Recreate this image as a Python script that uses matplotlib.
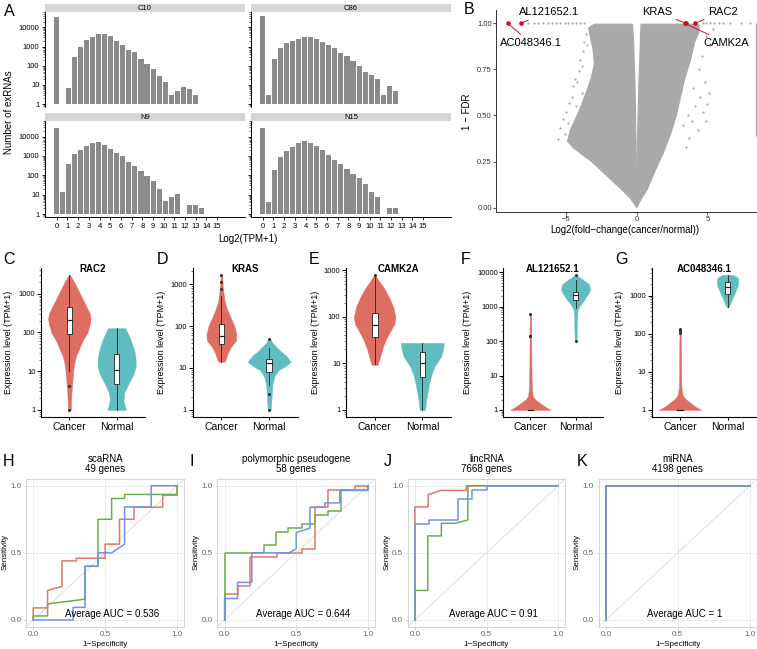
import numpy as np
import matplotlib.pyplot as plt
from matplotlib.ticker import LogLocator, NullFormatter, FixedLocator, FixedFormatter

plt.rcParams['font.family'] = ['Liberation Sans', 'DejaVu Sans']

W, H = 757, 649
fig = plt.figure(figsize=(W / 100, H / 100), dpi=100)

##############################
######## DATA ################
##############################

# A: number of exRNAs per Log2(TPM+1) bin (bins of width 9/16, first bin at 0)
bin_step = 9 / 16
c10_counts = [33000, 0, 7, 280, 1000, 2200, 3200, 4300, 4500, 3500, 2000, 1250, 630,
              510, 215, 130, 70, 29, 15, 3, 5, 8, 6, 3]
c86_counts = [39000, 3, 230, 870, 1600, 2000, 2450, 3000, 3100, 2550, 1700, 1150, 800,
              475, 310, 170, 96, 50, 33, 21, 3, 9, 5]
n9_counts = [29000, 13, 370, 1230, 2100, 3400, 4700, 5300, 3850, 2200, 1450, 960, 470,
             290, 175, 89, 49, 19, 5, 8, 11, 0, 3, 3, 2]
n15_counts = [28000, 4, 180, 890, 1800, 3000, 4700, 5700, 4900, 3150, 1950, 1170, 650,
              400, 210, 120, 73, 34, 13, 8, 0, 2, 2]
hist_names = ['C10', 'C86', 'N9', 'N15']

# B: volcano plot - outline of the dense cloud + loose points
cloud_left_x = [0, -0.45, -1.1, -1.8, -2.5, -3.2, -3.9, -4.5, -4.9, -4.7, -4.4, -4.1, -3.8,
                -3.5, -3.2, -3.0, -3.1, -3.3, -3.4, -3.0, -0.3, -0.22, -0.12, -0.05, 0]
cloud_left_y = [0, 0.05, 0.1, 0.15, 0.2, 0.25, 0.29, 0.325, 0.36, 0.42, 0.47, 0.52, 0.58,
                0.64, 0.71, 0.78, 0.86, 0.93, 0.975, 0.995, 0.995, 0.9, 0.65, 0.35, 0.08]
cloud_right_x = [0, 0.05, 0.14, 0.3, 4.4, 4.4, 4.1, 3.8, 3.4, 3.1, 2.8, 2.4, 1.9, 1.3,
                 0.75, 0.35, 0]
cloud_right_y = [0.08, 0.35, 0.65, 0.995, 0.995, 0.95, 0.9, 0.8, 0.7, 0.6, 0.5, 0.4, 0.3,
                 0.2, 0.1, 0.05, 0]
loose_x = [-5.6, -5.4, -5.2, -5.0, -4.9, -4.8, -4.6, -4.5, -4.4, -4.3, -4.1, -4.0, -3.9,
           -3.8, -3.7, -3.6, -4.2, -4.7, -5.1, -3.5, -3.9,
           3.3, 3.6, 3.9, 4.1, 4.3, 4.5, 4.7, 4.9, 5.0, 5.1, 4.8, 4.4, 4.6, 5.2, 3.7, 4.0,
           4.9, 5.4, 3.5]
loose_y = [0.37, 0.43, 0.48, 0.52, 0.46, 0.57, 0.6, 0.66, 0.7, 0.55, 0.74, 0.8, 0.62,
           0.85, 0.9, 0.94, 0.68, 0.41, 0.40, 0.88, 0.77,
           0.45, 0.5, 0.47, 0.55, 0.42, 0.6, 0.52, 0.47, 0.56, 0.62, 0.68, 0.75, 0.82,
           0.88, 0.38, 0.65, 0.93, 0.97, 0.33]
top_row_x = [-7.7, -7.3, -7.0, -6.6, -6.3, -6.0, -5.7, -5.4, -5.1, -4.9, -4.6, -4.3, -4.0,
             -3.7, 4.7, 4.9, 5.2, 5.5, 5.8, 6.1, 6.6, 7.4, 8.0]
edge_column = (8.45, 0.39, 1.0)  # x, y from, y to
hl_genes = ['AC048346.1', 'AL121652.1', 'KRAS', 'CAMK2A', 'RAC2']
hl_lfc = [-9.13, -8.21, 3.47, 3.40, 4.13]
hl_score = [1.0, 1.0, 1.0, 1.0, 1.0]

# C-G: violin outlines (log10(TPM+1) level, relative density) and box stats
genes = ['RAC2', 'KRAS', 'CAMK2A', 'AL121652.1', 'AC048346.1']
groups = ['Cancer', 'Normal']
rac2_cancer = ([3.49, 3.3, 3.1, 2.9, 2.7, 2.5, 2.35, 2.2, 2.0, 1.8, 1.6, 1.4, 1.2, 1.0, 0.7, 0.4, 0.0],
               [0.5, 5, 9, 13, 17, 21, 22, 21, 18.7, 14, 10.5, 7, 5, 4, 3, 2, 1.5])
rac2_normal = ([2.11, 1.9, 1.72, 1.5, 1.3, 1.12, 0.9, 0.69, 0.45, 0.26, 0.1, 0.0],
               [9, 13, 15.8, 18.5, 19.7, 19.7, 17, 12.5, 8, 7, 8.5, 9.5])
kras_cancer = ([3.22, 3.0, 2.8, 2.6, 2.4, 2.2, 2.0, 1.8, 1.65, 1.5, 1.35, 1.2, 1.15],
               [0.8, 1.2, 2, 3, 5.5, 9, 12.5, 14.5, 14, 9, 6, 4, 3])
kras_normal = ([1.70, 1.6, 1.5, 1.4, 1.3, 1.15, 1.05, 0.95, 0.8, 0.6, 0.4, 0.2, 0.0],
               [1, 3, 7, 11, 16, 20.8, 16, 9, 5, 3, 2.5, 2, 1.5])
camk2a_cancer = ([2.9, 2.75, 2.6, 2.4, 2.2, 2.0, 1.85, 1.7, 1.5, 1.3, 1.1, 0.97],
                 [0.5, 5, 10, 15, 19, 21, 20, 16, 11, 7.5, 5, 3])
camk2a_normal = ([1.44, 1.3, 1.15, 0.94, 0.75, 0.58, 0.4, 0.23, 0.0],
                 [21.7, 21, 19, 12.5, 9, 7, 5.5, 4, 2.8])
al121652_cancer = ([2.79, 2.5, 2.2, 1.8, 1.4, 1.0, 0.6, 0.4, 0.3, 0.2, 0.1, 0.0],
                   [0.6, 0.8, 0.9, 0.9, 1, 1.2, 1.5, 2.5, 5, 10, 15, 21])
al121652_normal = ([3.93, 3.8, 3.65, 3.5, 3.4, 3.3, 3.2, 3.1, 3.0, 2.9, 2.7, 2.4, 2.0],
                   [0.5, 7, 14, 15, 13.5, 11, 9, 6, 3.5, 2, 1.5, 1.3, 1])
ac048346_cancer = ([2.1, 1.8, 1.4, 1.0, 0.6, 0.4, 0.3, 0.2, 0.1, 0.0],
                   [0.6, 0.8, 0.9, 1.0, 1.3, 2.5, 5, 10, 15, 22])
ac048346_normal = ([3.55, 3.5, 3.45, 3.3, 3.2, 3.05, 2.9, 2.75, 2.7],
                   [5, 9, 11, 11, 9.5, 7, 4.5, 2, 1])
# whisker low, q1, median, q3, whisker high (TPM+1)
rac2_box = [(10, 93, 215, 450, 3000), (1, 4.7, 11, 27.5, 130)]
kras_box = [(14, 38, 57, 110, 520), (4, 7.9, 13, 16.6, 30)]
camk2a_box = [(9.5, 36, 66, 120, 700), (1, 5.1, 10.3, 17.5, 27)]
al121652_box = [(1, 1, 1, 1, 1), (900, 1600, 2150, 2750, 6000)]
ac048346_box = [(1, 1, 1, 1, 1), (500, 1100, 1650, 2340, 3500)]
rac2_out = [[4.2, 1.0], []]
kras_out = [[770, 1150, 1670], [50, 2.4, 1.0]]
camk2a_out = [[800], []]
al121652_out = [[615, 137, 145], [8500, 100]]
ac048346_out = [[105, 115, 125, 130], []]

# H-K: ROC curves (1-specificity, sensitivity), three runs each
roc_titles = ['scaRNA\n49 genes', 'polymorphic pseudogene\n58 genes',
              'lincRNA\n7668 genes', 'miRNA\n4198 genes']
roc_auc = ['0.536', '0.644', '0.91', '1']
scarna_red = ([0, 0, 0.1, 0.1, 0.2, 0.2, 0.3, 0.3, 0.5, 0.5, 0.6, 0.6, 0.7, 0.7, 0.9, 0.9, 1.0, 1.0],
              [0, 0.09, 0.09, 0.22, 0.25, 0.44, 0.44, 0.46, 0.46, 0.565, 0.565, 0.75, 0.75,
               0.84, 0.84, 0.93, 0.93, 1.0])
scarna_green = ([0, 0, 0.1, 0.1, 0.36, 0.36, 0.45, 0.45, 0.545, 0.545, 0.635, 0.635, 1.0, 1.0],
                [0, 0.03, 0.03, 0.12, 0.155, 0.4, 0.4, 0.75, 0.75, 0.905, 0.905, 0.935, 0.935, 1.0])
scarna_blue = ([0, 0.277, 0.277, 0.36, 0.36, 0.45, 0.45, 0.545, 0.635, 0.635, 0.82, 0.82, 1.0],
               [0, 0, 0.094, 0.094, 0.40, 0.40, 0.5, 0.5, 0.565, 0.842, 0.842, 1.0, 1.0])
pseudo_red = ([0, 0, 0.092, 0.092, 0.18, 0.18, 0.365, 0.365, 0.538, 0.538, 0.63, 0.63, 0.723,
               0.723, 0.908, 0.908, 1.0],
              [0, 0.19, 0.19, 0.25, 0.25, 0.472, 0.472, 0.5, 0.5, 0.528, 0.528, 0.84, 0.84,
               0.965, 0.965, 1.0, 1.0])
pseudo_green = ([0, 0, 0.272, 0.272, 0.36, 0.36, 0.446, 0.446, 0.54, 0.54, 0.63, 0.63, 0.72,
                 0.72, 0.815, 0.815, 1.0, 1.0],
                [0, 0.5, 0.5, 0.56, 0.56, 0.655, 0.655, 0.685, 0.685, 0.715, 0.715, 0.78,
                 0.78, 0.81, 0.81, 0.965, 0.965, 1.0])
pseudo_blue = ([0, 0, 0.09, 0.09, 0.19, 0.19, 0.45, 0.5, 0.5, 0.596, 0.596, 0.70, 0.70,
                0.804, 0.804, 1.0, 1.0],
               [0, 0.16, 0.16, 0.28, 0.28, 0.5, 0.5, 0.53, 0.65, 0.685, 0.84, 0.84, 0.872,
                0.872, 0.965, 0.965, 1.0])
linc_red = ([0, 0, 0.093, 0.093, 0.18, 0.36, 0.36, 1.0],
            [0, 0.842, 0.842, 0.933, 0.965, 0.965, 1.0, 1.0])
linc_green = ([0, 0, 0.09, 0.09, 0.185, 0.185, 0.28, 0.37, 0.37, 0.5],
              [0, 0.22, 0.22, 0.626, 0.626, 0.72, 0.72, 0.745, 1.0, 1.0])
linc_blue = ([0, 0, 0.096, 0.096, 0.30, 0.30, 0.40, 0.40, 0.50, 0.50, 1.0],
             [0, 0.717, 0.717, 0.744, 0.744, 0.904, 0.904, 0.965, 0.965, 1.0, 1.0])
mirna_red = ([0, 0, 1.0], [0, 1.0, 1.0])
mirna_green = ([0, 0, 1.0], [0, 1.0, 1.0])
mirna_blue = ([0, 0, 1.0], [0, 1.0, 1.0])

##############################
######## HELPERS #############
##############################


def px_axes(l, t, r, b):
    return fig.add_axes([l / W, 1 - b / H, (r - l) / W, (b - t) / H])


def ptext(x, y, s, **kw):
    return fig.text(x / W, 1 - y / H, s, **kw)


def panel_letter(x, y, s):
    ptext(x, y, s, fontsize=11.5, ha='center', va='center')


##############################
######## A: HISTOGRAMS #######
##############################
hist_counts = [c10_counts, c86_counts, n9_counts, n15_counts]
hist_boxes = [(45, 12, 245, 107), (251, 12, 451, 107), (45, 121, 245, 217), (251, 121, 451, 217)]
for i, (name, counts, (l, t, r, b)) in enumerate(zip(hist_names, hist_counts, hist_boxes)):
    ax = px_axes(l, t, r, b)
    counts = np.array(counts, float)
    centers = np.arange(len(counts)) * bin_step
    keep = counts > 0
    ax.bar(centers[keep], counts[keep] - 1, bottom=1, width=0.47, color='#8a8a8a', lw=0)
    ax.set_yscale('log')
    ax.set_ylim(10 ** -0.15, 10 ** 4.8)
    ax.set_xlim(-1.1, 17.6)
    for s in ['top', 'right']:
        ax.spines[s].set_visible(False)
    ax.spines['left'].set_linewidth(0.7)
    ax.yaxis.set_major_locator(FixedLocator([1, 10, 100, 1000, 10000]))
    ax.yaxis.set_minor_locator(LogLocator(base=10, subs=np.arange(2, 10)))
    ax.yaxis.set_minor_formatter(NullFormatter())
    if i % 2 == 0:
        ax.yaxis.set_major_formatter(FixedFormatter(['1', '10', '100', '1000', '10000']))
    else:
        ax.yaxis.set_major_formatter(NullFormatter())
    ax.tick_params(axis='y', which='major', length=2.5, width=0.6, labelsize=5.5, pad=1.5)
    ax.tick_params(axis='y', which='minor', length=1.3, width=0.4)
    if i >= 2:
        ax.set_xticks(range(16))
        ax.tick_params(axis='x', length=2, width=0.6, labelsize=5.5, pad=2)
        ax.spines['bottom'].set_linewidth(0.7)
    else:
        ax.set_xticks([])
        ax.spines['bottom'].set_visible(False)
    st = px_axes(l, t - 8, r, t)
    st.set_facecolor('#d6d6d6')
    st.set_xticks([])
    st.set_yticks([])
    for s in st.spines.values():
        s.set_visible(False)
    st.text(0.5, 0.45, name, ha='center', va='center', fontsize=5.5, transform=st.transAxes)

ptext(9, 112, 'Number of exRNAs', rotation=90, ha='center', va='center', fontsize=7)
ptext(248, 239, 'Log2(TPM+1)', ha='center', va='center', fontsize=7)
panel_letter(9, 11, 'A')

##############################
######## B: VOLCANO ##########
##############################
grey = '#a9a9a9'
hl_red = '#c8102e'
axb = px_axes(496, 10, 757, 212)
axb.fill(cloud_left_x, cloud_left_y, color=grey, lw=0.8)
axb.fill(cloud_right_x, cloud_right_y, color=grey, lw=0.8)
axb.scatter(loose_x, loose_y, s=2.5, color=grey, lw=0)
axb.scatter(top_row_x, np.full(len(top_row_x), 1.0), s=2.5, color=grey, lw=0)
axb.vlines(edge_column[0], edge_column[1], edge_column[2], color=grey, lw=1.0)
axb.scatter(hl_lfc, hl_score, s=11, color=hl_red, lw=0, zorder=5)
axb.set_xlim(-9.96, 8.51)
axb.set_ylim(-0.024, 1.072)
axb.set_xticks([-5, 0, 5])
axb.set_yticks([0, 0.25, 0.5, 0.75, 1.0])
axb.set_yticklabels(['0.00', '0.25', '0.50', '0.75', '1.00'])
for s in ['top', 'right']:
    axb.spines[s].set_visible(False)
for s in ['left', 'bottom']:
    axb.spines[s].set_linewidth(0.7)
    axb.spines[s].set_color('#333333')
axb.tick_params(length=2, width=0.6, labelsize=5.5, pad=1, colors='#333333')
label_pos = {'AC048346.1': (-7.5, 0.893), 'AL121652.1': (-6.2, 1.061),
             'KRAS': (1.44, 1.061), 'CAMK2A': (6.35, 0.893), 'RAC2': (6.1, 1.061)}
for g, x, y in zip(hl_genes, hl_lfc, hl_score):
    axb.annotate(g, xy=(x, y), xytext=label_pos[g], ha='center', va='center', fontsize=8,
                 annotation_clip=False,
                 arrowprops=dict(arrowstyle='-', color=hl_red, lw=0.7, shrinkA=1, shrinkB=2))
ptext(625, 230, 'Log2(fold\u2212change(cancer/normal))', ha='center', va='center', fontsize=7)
ptext(467, 112, '1 \u2212 FDR', rotation=90, ha='center', va='center', fontsize=7)
panel_letter(469, 10, 'B')

##############################
######## C-G: VIOLINS ########
##############################
group_colors = ['#de6e62', '#5fbdbf']
violin_cancer = [rac2_cancer, kras_cancer, camk2a_cancer, al121652_cancer, ac048346_cancer]
violin_normal = [rac2_normal, kras_normal, camk2a_normal, al121652_normal, ac048346_normal]
violin_box = [rac2_box, kras_box, camk2a_box, al121652_box, ac048346_box]
violin_out = [rac2_out, kras_out, camk2a_out, al121652_out, ac048346_out]
violin_x = [(41, 145), (192.7, 298), (346, 451), (503.3, 602.7), (651.7, 756)]
violin_letters = ['C', 'D', 'E', 'F', 'G']
violin_letter_x = [9, 162.5, 314.5, 466, 621]
violin_ylabel_x = [9, 162, 315, 467, 619]

for k, gene in enumerate(genes):
    l, r = violin_x[k]
    ax = px_axes(l, 268, r, 416.7)
    shapes = [violin_cancer[k], violin_normal[k]]
    dmax = max(max(d) for _, d in shapes)
    top = 0
    for j, (lv, dens) in enumerate(shapes):
        pos = j + 1
        hw = 0.45 * np.array(dens) / dmax
        y = 10 ** np.array(lv)
        ax.fill_betweenx(y, pos - hw, pos + hw, color=group_colors[j], lw=0.3,
                         edgecolor=group_colors[j])
        lo, q1, med, q3, hi = violin_box[k][j]
        ax.plot([pos, pos], [lo, q1], color='#222222', lw=0.6)
        ax.plot([pos, pos], [q3, hi], color='#222222', lw=0.6)
        ax.add_patch(plt.Rectangle((pos - 0.06, q1), 0.12, q3 - q1, facecolor='white',
                                   edgecolor='#222222', lw=0.6, zorder=3))
        ax.plot([pos - 0.06, pos + 0.06], [med, med], color='#222222', lw=0.9, zorder=4)
        outs = violin_out[k][j]
        if outs:
            ax.plot([pos] * len(outs), outs, 'o', color='#333333', ms=2.2, mew=0, zorder=4)
        top = max(top, max(lv), max([np.log10(v) for v in outs] or [0]))
    ax.set_yscale('log')
    ax.set_ylim(10 ** (-0.05 * top), 10 ** (1.05 * top))
    ax.set_xlim(0.4, 2.6)
    ax.set_xticks([1, 2])
    ax.set_xticklabels(groups)
    majors = [v for v in [1, 10, 100, 1000, 10000] if np.log10(v) <= 1.05 * top]
    ax.yaxis.set_major_locator(FixedLocator(majors))
    ax.yaxis.set_major_formatter(FixedFormatter([str(v) for v in majors]))
    ax.yaxis.set_minor_locator(LogLocator(base=10, subs=np.arange(2, 10)))
    ax.yaxis.set_minor_formatter(NullFormatter())
    for s in ['top', 'right']:
        ax.spines[s].set_visible(False)
    for s in ['left', 'bottom']:
        ax.spines[s].set_linewidth(0.8)
    ax.tick_params(axis='y', which='major', length=3, width=0.7, labelsize=5.5, pad=1)
    ax.tick_params(axis='y', which='minor', length=1.5, width=0.4)
    ax.tick_params(axis='x', length=2.5, width=0.7, labelsize=7.5, pad=1.5)
    ptext((l + r) / 2, 269, gene, ha='center', va='center', fontsize=7, fontweight='bold')
    ptext(violin_ylabel_x[k], 342, 'Expression level (TPM+1)', rotation=90,
          ha='center', va='center', fontsize=6.5)
    panel_letter(violin_letter_x[k], 259, violin_letters[k])

##############################
######## H-K: ROC ############
##############################
roc_colors = ['#e0776c', '#6aaf4a', '#6d93ea']
roc_curves = [[scarna_red, scarna_green, scarna_blue],
              [pseudo_red, pseudo_green, pseudo_blue],
              [linc_red, linc_green, linc_blue],
              [mirna_red, mirna_green, mirna_blue]]
roc_x = [(26, 184.3), (217.4, 375), (407.7, 565.3), (598.6, 757)]
roc_letters = ['H', 'I', 'J', 'K']
roc_letter_x = [9, 192, 387.5, 582]
roc_ylabel_x = [5, 196, 387, 577]

for k in range(4):
    l, r = roc_x[k]
    ax = px_axes(l, 479, r, 626.7)
    ax.set_xlim(-0.05, 1.05)
    ax.set_ylim(-0.05, 1.05)
    ax.set_xticks([0, 0.5, 1.0])
    ax.set_yticks([0, 0.5, 1.0])
    ax.set_xticklabels(['0.0', '0.5', '1.0'])
    ax.set_yticklabels(['0.0', '0.5', '1.0'])
    ax.grid(color='#e8e8e8', lw=0.6)
    ax.set_axisbelow(True)
    ax.axline((0, 0), (1, 1), color='#d9d9d9', lw=0.6, zorder=1)
    for (cx, cy), c in zip(roc_curves[k], roc_colors):
        ax.plot(cx, cy, color=c, lw=1.1, zorder=3)
    for s in ax.spines.values():
        s.set_color('#cfcfcf')
        s.set_linewidth(0.6)
    ax.tick_params(length=1.8, width=0.5, color='#bdbdbd', labelsize=5.8, labelcolor='#666666',
                   pad=1.5)
    ax.text(0.55, 0.045, 'Average AUC = ' + roc_auc[k], ha='center', va='center', fontsize=7)
    ptext((l + r) / 2, 464, roc_titles[k], ha='center', va='center', fontsize=7,
          linespacing=1.1)
    ptext((l + r) / 2, 644, '1\u2212Specificity', ha='center', va='center', fontsize=5.8)
    ptext(roc_ylabel_x[k], 552, 'Sensitivity', rotation=90, ha='center', va='center',
          fontsize=5.8)
    panel_letter(roc_letter_x[k], 462, roc_letters[k])

fig.savefig('out.png', dpi=100)
